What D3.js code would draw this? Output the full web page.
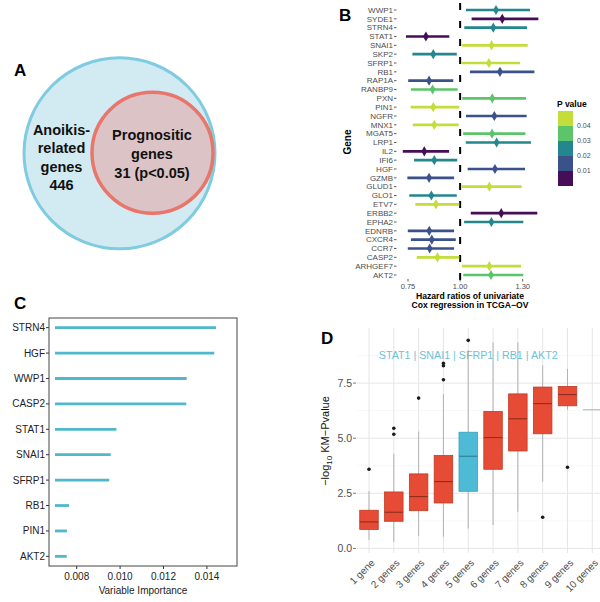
<!DOCTYPE html>
<html><head><meta charset="utf-8">
<script src="https://cdn.jsdelivr.net/npm/d3@7"></script>
<style>body{margin:0;background:#fff}svg{display:block;font-family:"Liberation Sans",Arial,sans-serif}</style>
</head><body><svg id="c" width="600" height="602"></svg>
<script>
// ---------------- DATA ----------------
const vennOuterLines = ["Anoikis-", "related", "genes", "446"];
const vennInnerLines = ["Prognositic", "genes", "31 (p<0.05)"];

const genes = ["WWP1","SYDE1","STRN4","STAT1","SNAI1","SKP2","SFRP1","RB1","RAP1A","RANBP9","PXN","PIN1","NGFR","MNX1","MGAT5","LRP1","IL2","IFI6","HGF","GZMB","GLUD1","GLO1","ETV7","ERBB2","EPHA2","EDNRB","CXCR4","CCR7","CASP2","ARHGEF7","AKT2"];
const hr     = [1.172,1.202,1.159,0.836,1.151,0.871,1.138,1.191,0.851,0.868,1.154,0.871,1.164,0.876,1.153,1.175,0.828,0.876,1.167,0.851,1.140,0.862,0.884,1.197,1.150,0.852,0.864,0.854,0.891,1.140,1.148];
const hrLow  = [1.028,1.055,1.020,0.740,1.010,0.771,1.006,1.047,0.751,0.764,1.010,0.763,1.028,0.773,1.014,1.027,0.725,0.779,1.036,0.747,1.009,0.756,0.785,1.051,1.019,0.749,0.764,0.749,0.792,1.009,1.015];
const hrHigh = [1.335,1.375,1.321,0.948,1.324,0.984,1.287,1.356,0.967,0.988,1.316,0.996,1.319,0.993,1.313,1.340,0.947,0.986,1.311,0.971,1.295,0.984,0.996,1.370,1.303,0.971,0.979,0.971,0.996,1.292,1.303];
const pValues= [0.025,0.005,0.022,0.006,0.045,0.024,0.046,0.015,0.013,0.035,0.036,0.047,0.014,0.046,0.034,0.022,0.004,0.027,0.012,0.016,0.044,0.026,0.048,0.006,0.024,0.014,0.017,0.013,0.047,0.045,0.035];
const pBreaks = [0.01, 0.02, 0.03, 0.04];
const hrTicks = [0.75, 1.00, 1.30];

const impGenes = ["STRN4","HGF","WWP1","CASP2","STAT1","SNAI1","SFRP1","RB1","PIN1","AKT2"];
const importance = [0.01442,0.01434,0.01307,0.01305,0.00983,0.00957,0.00950,0.00765,0.00755,0.00754];
const impBase = 0.0070;
const impTicks = [0.008, 0.010, 0.012, 0.014];

const kmGroups = ["1 gene","2 genes","3 genes","4 genes","5 genes","6 genes","7 genes","8 genes","9 genes","10 genes"];
const kmQ1     = [0.86,1.23,1.71,2.06,2.59,3.59,4.42,5.20,6.47,6.29];
const kmMedian = [1.20,1.64,2.35,3.03,4.18,5.03,5.88,6.57,6.98,6.29];
const kmQ3     = [1.73,2.56,3.38,4.21,5.27,6.21,7.01,7.32,7.35,6.29];
const kmLow    = [0.38,0.30,0.56,0.53,0.90,1.06,1.66,3.03,6.29,6.29];
const kmHigh   = [2.60,4.30,5.30,7.00,9.00,9.35,9.35,8.30,8.14,6.29];
const kmOutliers = [[3.59],[5.18,5.45],[6.82],[7.65,8.29,8.40],[9.44],[],[],[1.41],[3.68],[]];
const kmHighlight = "5 genes";
const kmTicks = [0, 2.5, 5, 7.5];
const kmMinorTicks = [1.25, 3.75, 6.25, 8.75];
const kmAnnotation = "STAT1 | SNAI1 | SFRP1 | RB1 | AKT2";

// ---------------- STYLE ----------------
const viridis5 = ["#450e57","#3b518a","#23878d","#5cc46a","#c4dd3b"];
const svg = d3.select("#c");
const font = "'Liberation Sans',Arial,sans-serif";

function letter(t, x, y) {
  svg.append("text").attr("x", x).attr("y", y).text(t)
    .attr("font-size", 17).attr("font-weight", "bold").attr("fill", "#000");
}

// ---------------- PANEL A ----------------
letter("A", 14, 76);
const gA = svg.append("g");
gA.append("circle").attr("cx", 119.5).attr("cy", 153.3).attr("r", 95.5)
  .attr("fill", "#d2eaf2").attr("stroke", "#7fcbe0").attr("stroke-width", 3);
gA.append("circle").attr("cx", 152.5).attr("cy", 152.8).attr("r", 60.5)
  .attr("fill", "#dcc3c6").attr("stroke", "#e8766a").attr("stroke-width", 3.5);
vennOuterLines.forEach((t, i) => {
  gA.append("text").attr("x", 61.5).attr("y", 135 + i * 18.3).attr("text-anchor", "middle")
    .attr("font-size", 14.5).attr("font-weight", "bold").attr("fill", "#111").text(t);
});
vennInnerLines.forEach((t, i) => {
  gA.append("text").attr("x", 152).attr("y", 140 + i * 19.2).attr("text-anchor", "middle")
    .attr("font-size", 14.5).attr("font-weight", "bold").attr("fill", "#111").text(t);
});

// ---------------- PANEL B ----------------
letter("B", 339, 21);
const gB = svg.append("g");
const xB = d3.scaleLinear().domain([0.75, 1.30]).range([408, 522.7]);
const yB = d3.scalePoint().domain(genes).range([10, 275]);
const colB = d3.scaleThreshold().domain(pBreaks).range(viridis5);

// dashed reference line
gB.append("line").attr("x1", xB(1)).attr("x2", xB(1)).attr("y1", 3).attr("y2", 280)
  .attr("stroke", "#000").attr("stroke-width", 2).attr("stroke-dasharray", "7,11");

genes.forEach((g, i) => {
  const y = yB(g), c = colB(pValues[i]);
  gB.append("line").attr("x1", xB(hrLow[i])).attr("x2", xB(hrHigh[i]))
    .attr("y1", y).attr("y2", y).attr("stroke", c).attr("stroke-width", 2.6);
  gB.append("path").attr("d", d3.symbol(d3.symbolDiamond, 30)())
    .attr("transform", `translate(${xB(hr[i])},${y})`).attr("fill", c);
  gB.append("text").attr("x", 393).attr("y", y).attr("dy", "0.35em").attr("text-anchor", "end")
    .attr("font-size", 8).attr("fill", "#4d4d4d").text(g);
  gB.append("line").attr("x1", 394).attr("x2", 396.5).attr("y1", y).attr("y2", y)
    .attr("stroke", "#333").attr("stroke-width", 0.8);
});
hrTicks.forEach(t => {
  gB.append("line").attr("x1", xB(t)).attr("x2", xB(t)).attr("y1", 279).attr("y2", 281.5)
    .attr("stroke", "#333").attr("stroke-width", 0.8);
  gB.append("text").attr("x", xB(t)).attr("y", 288.5).attr("text-anchor", "middle")
    .attr("font-size", 7.5).attr("fill", "#4d4d4d").text(d3.format(".2f")(t));
});
gB.append("text").attr("x", 470).attr("y", 298.8).attr("text-anchor", "middle")
  .attr("font-size", 8.6).attr("font-weight", "bold").text("Hazard ratios of univariate");
gB.append("text").attr("x", 470).attr("y", 307.5).attr("text-anchor", "middle")
  .attr("font-size", 8.6).attr("font-weight", "bold").text("Cox regression in TCGA\u2212OV");
gB.append("text").attr("transform", "translate(351,142) rotate(-90)").attr("text-anchor", "middle")
  .attr("font-size", 10).attr("font-weight", "bold").text("Gene");

// legend
const legY = d3.scaleLinear().domain([0.05, 0]).range([111, 186]);
gB.append("text").attr("x", 557).attr("y", 107).attr("font-size", 8.5).attr("font-weight", "bold").text("P value");
const binEdges = [0].concat(pBreaks).concat([0.05]);
for (let i = 0; i < 5; i++) {
  gB.append("rect").attr("x", 558).attr("width", 15)
    .attr("y", legY(binEdges[i + 1])).attr("height", legY(binEdges[i]) - legY(binEdges[i + 1]))
    .attr("fill", colB((binEdges[i] + binEdges[i + 1]) / 2));
}
pBreaks.forEach(b => {
  gB.append("text").attr("x", 577).attr("y", legY(b)).attr("dy", "0.35em")
    .attr("font-size", 7).attr("fill", "#4d4d4d").text(d3.format(".2f")(b));
});

// ---------------- PANEL C ----------------
letter("C", 14, 309);
const gC = svg.append("g");
const xC = d3.scaleLinear().domain([0.006724, 0.015387]).range([49, 237]);
const yC = d3.scalePoint().domain(impGenes).range([318, 566]).padding(0.38);
impGenes.forEach((g, i) => {
  gC.append("line").attr("x1", xC(impBase)).attr("x2", xC(importance[i]))
    .attr("y1", yC(g)).attr("y2", yC(g)).attr("stroke", "#4fb8cb").attr("stroke-width", 2.8);
  gC.append("text").attr("x", 45).attr("y", yC(g)).attr("dy", "0.35em").attr("text-anchor", "end")
    .attr("font-size", 10).attr("fill", "#222").text(g);
  gC.append("line").attr("x1", 46).attr("x2", 49).attr("y1", yC(g)).attr("y2", yC(g)).attr("stroke", "#333");
});
gC.append("rect").attr("x", 49).attr("y", 318).attr("width", 188).attr("height", 248)
  .attr("fill", "none").attr("stroke", "#444").attr("stroke-width", 1);
impTicks.forEach(t => {
  gC.append("line").attr("x1", xC(t)).attr("x2", xC(t)).attr("y1", 566).attr("y2", 569).attr("stroke", "#333");
  gC.append("text").attr("x", xC(t)).attr("y", 579.5).attr("text-anchor", "middle")
    .attr("font-size", 10).attr("fill", "#222").text(d3.format(".3f")(t));
});
gC.append("text").attr("x", 143).attr("y", 593.5).attr("text-anchor", "middle")
  .attr("font-size", 10).attr("fill", "#222").text("Variable Importance");

// ---------------- PANEL D ----------------
letter("D", 321, 343.5);
const gD = svg.append("g");
const xD = d3.scalePoint().domain(kmGroups).range([369, 592.3]);
const yD = d3.scaleLinear().domain([-0.21, 10.0]).range([553, 328]);
const boxW = 18.5;
kmMinorTicks.forEach(t => {
  gD.append("line").attr("x1", 357).attr("x2", 600).attr("y1", yD(t)).attr("y2", yD(t))
    .attr("stroke", "#f2f2f2").attr("stroke-width", 0.6);
});
kmTicks.forEach(t => {
  gD.append("line").attr("x1", 357).attr("x2", 600).attr("y1", yD(t)).attr("y2", yD(t))
    .attr("stroke", "#e6e6e6").attr("stroke-width", 1);
});
kmGroups.forEach(g => {
  gD.append("line").attr("x1", xD(g)).attr("x2", xD(g)).attr("y1", 328).attr("y2", 553)
    .attr("stroke", "#e6e6e6").attr("stroke-width", 1);
});
kmGroups.forEach((g, i) => {
  const x = xD(g);
  const hi = g === kmHighlight;
  const fill = hi ? "#4dbbd5" : "#e64b35";
  const stroke = hi ? "#3aa0b9" : "#c13a26";
  const medC = hi ? "#2e7f93" : "#8f2d1f";
  gD.append("line").attr("x1", x).attr("x2", x).attr("y1", yD(kmLow[i])).attr("y2", yD(kmHigh[i]))
    .attr("stroke", "#b3b3b3").attr("stroke-width", 1);
  gD.append("rect").attr("x", x - boxW / 2).attr("width", boxW)
    .attr("y", yD(kmQ3[i])).attr("height", Math.max(0, yD(kmQ1[i]) - yD(kmQ3[i])))
    .attr("fill", fill).attr("stroke", stroke).attr("stroke-width", 0.8);
  gD.append("line").attr("x1", x - boxW / 2).attr("x2", x + boxW / 2)
    .attr("y1", yD(kmMedian[i])).attr("y2", yD(kmMedian[i]))
    .attr("stroke", kmQ1[i] === kmQ3[i] ? "#b3b3b3" : medC).attr("stroke-width", 1.1);
  kmOutliers[i].forEach(o => {
    gD.append("circle").attr("cx", x).attr("cy", yD(o)).attr("r", 1.8).attr("fill", "#1a1a1a");
  });
  gD.append("text").attr("transform", `translate(${x + 4},${561}) rotate(-45)`)
    .attr("text-anchor", "end").attr("dy", "0.35em")
    .attr("font-size", 10).attr("fill", "#4d4d4d").text(g);
});
kmTicks.forEach(t => {
  gD.append("text").attr("x", 352).attr("y", yD(t)).attr("dy", "0.35em").attr("text-anchor", "end")
    .attr("font-size", 10.5).attr("fill", "#4d4d4d").text(d3.format(".1f")(t));
  gD.append("line").attr("x1", 353).attr("x2", 356).attr("y1", yD(t)).attr("y2", yD(t))
    .attr("stroke", "#555").attr("stroke-width", 0.8);
});
gD.append("text").attr("x", xD(kmHighlight)).attr("y", 359).attr("text-anchor", "middle")
  .attr("font-size", 10.7).attr("fill", "#6cc3d8").text(kmAnnotation);
const yt = gD.append("text").attr("transform", "translate(329,441) rotate(-90)").attr("text-anchor", "middle")
  .attr("font-size", 11).attr("fill", "#111");
yt.append("tspan").text("\u2212log");
yt.append("tspan").attr("font-size", 8).attr("dy", 3).text("10");
yt.append("tspan").attr("dy", -3).text(" KM\u2212Pvalue");
</script></body></html>
